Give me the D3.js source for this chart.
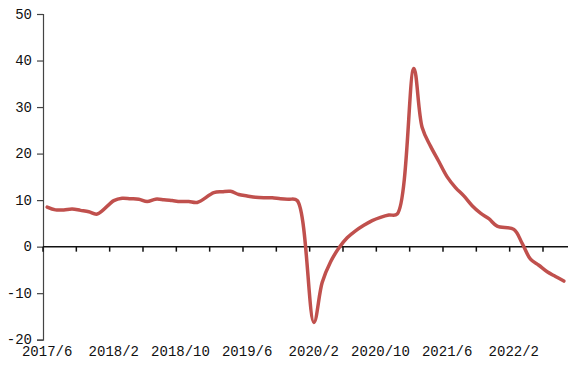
<!DOCTYPE html>
<html>
<head>
<meta charset="utf-8">
<script src="https://cdn.jsdelivr.net/npm/d3@7"></script>
<style>
  html, body { margin: 0; padding: 0; background: #fff; }
  svg { display: block; }
  text { font-family: "Liberation Mono", "DejaVu Sans Mono", monospace; font-size: 14px; fill: #111; }
</style>
</head>
<body>
<svg id="chart" width="568" height="373"></svg>
<script>
// Months (categories), 2017/6 .. 2022/8
const months = [
  "2017/6","2017/7","2017/8","2017/9","2017/10","2017/11","2017/12",
  "2018/1","2018/2","2018/3","2018/4","2018/5","2018/6","2018/7","2018/8","2018/9","2018/10","2018/11","2018/12",
  "2019/1","2019/2","2019/3","2019/4","2019/5","2019/6","2019/7","2019/8","2019/9","2019/10","2019/11","2019/12",
  "2020/1","2020/2","2020/3","2020/4","2020/5","2020/6","2020/7","2020/8","2020/9","2020/10","2020/11","2020/12",
  "2021/1","2021/2","2021/3","2021/4","2021/5","2021/6","2021/7","2021/8","2021/9","2021/10","2021/11","2021/12",
  "2022/1","2022/2","2022/3","2022/4","2022/5","2022/6","2022/7","2022/8"
];
// Series values (%); January has no separate value (null)
const values = [
  8.5, 7.9, 7.9, 8.1, 7.8, 7.5, 7.0,
  null, 9.9, 10.4, 10.3, 10.2, 9.7, 10.2, 10.1, 9.9, 9.7, 9.7, 9.5,
  null, 11.6, 11.8, 11.9, 11.2, 10.9, 10.6, 10.5, 10.5, 10.3, 10.2, 9.9,
  null, -16.3, -7.7, -3.3, -0.3, 1.9, 3.4, 4.6, 5.6, 6.3, 6.8, 7.0,
  null, 38.3, 25.6, 21.6, 18.3, 15.0, 12.7, 10.9, 8.8, 7.2, 6.0, 4.4,
  null, 3.7, 0.7, -2.7, -4.0, -5.4, -6.4, -7.4
];
// Axis ticks and labels
const yTicks = [50, 40, 30, 20, 10, 0, -10, -20];
const xLabels = ["2017/6","2018/2","2018/10","2019/6","2020/2","2020/10","2021/6","2022/2"];
const tickEvery = 4;

(function () {
const svg = d3.select("#chart");
const mLeft = 43, mRight = 568, mTop = 14, mBottom = 339.7;

const x = d3.scaleBand().domain(months).range([mLeft, mRight]).padding(0);
const y = d3.scaleLinear().domain([-20, 50]).range([mBottom, mTop]);

// Y axis
const yAxis = d3.axisLeft(y).tickValues(yTicks).tickSize(6).tickPadding(5)
  .tickFormat(d => String(d));
const gy = svg.append("g").attr("transform", `translate(${mLeft},0)`).call(yAxis);
gy.attr("font-family", null).attr("font-size", null);
gy.select(".domain").attr("stroke", "#444").attr("stroke-width", 1.2);
gy.selectAll(".tick line").attr("stroke", "#444").attr("stroke-width", 1.2);
gy.selectAll("text").attr("fill", "#111").attr("dy", "0.3em");

// X axis line at zero with boundary ticks
const y0 = y(0);
svg.append("line").attr("x1", mLeft).attr("x2", mRight).attr("y1", y0).attr("y2", y0)
  .attr("stroke", "#111").attr("stroke-width", 1.5);
const tickMonths = months.filter((m, i) => i % tickEvery === 0);
svg.append("g").selectAll("line").data(tickMonths).join("line")
  .attr("x1", d => x(d)).attr("x2", d => x(d))
  .attr("y1", y0).attr("y2", y0 + 5)
  .attr("stroke", "#111").attr("stroke-width", 1.5);

// X labels at the bottom
svg.append("g").selectAll("text").data(xLabels).join("text")
  .attr("x", d => x(d) + x.bandwidth() / 2)
  .attr("y", 356)
  .attr("text-anchor", "middle")
  .text(d => d);

// Line
const pts = months.map((m, i) => ({m, v: values[i]})).filter(d => d.v !== null);
const line = d3.line()
  .x(d => x(d.m) + x.bandwidth() / 2)
  .y(d => y(d.v))
  .curve(d3.curveCatmullRom.alpha(0.5));
svg.append("path").datum(pts).attr("d", line)
  .attr("fill", "none").attr("stroke", "#c0504d").attr("stroke-width", 3.5)
  .attr("stroke-linejoin", "round").attr("stroke-linecap", "round");
})();
</script>
</body>
</html>
